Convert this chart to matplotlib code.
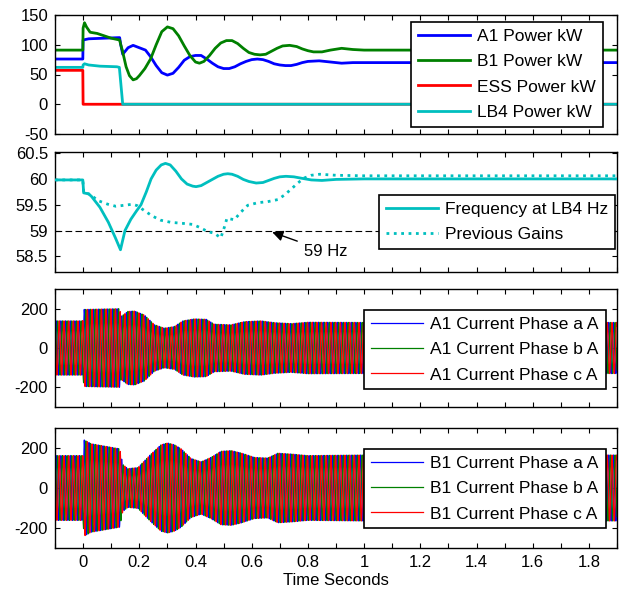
import numpy as np
import matplotlib.pyplot as plt

plt.rcParams['font.family'] = ['Liberation Sans', 'DejaVu Sans']
plt.rcParams['axes.unicode_minus'] = False

# --- top panel: powers in kW ---
a1_t = [-0.1, -0.001, 0.0, 0.02, 0.13, 0.134, 0.141, 0.16, 0.178, 0.2, 0.222, 0.24, 0.26, 0.28, 0.30,
        0.32, 0.34, 0.36, 0.38, 0.40, 0.42, 0.44, 0.46, 0.48, 0.50, 0.52, 0.54, 0.56, 0.58, 0.60,
        0.62, 0.64, 0.66, 0.68, 0.70, 0.72, 0.74, 0.76, 0.78, 0.80, 0.84, 0.88, 0.92, 0.96, 1.0, 1.9]
a1_kw = [76, 76, 108, 110, 112, 100, 84, 95, 99, 95, 91, 80, 65, 53, 49,
         52, 62, 74, 80, 82, 82, 76, 69, 63, 60, 60, 63, 68, 72, 75,
         76, 75, 72, 68, 66, 65, 65, 67, 70, 72, 73, 71, 69, 70, 70, 70]

b1_t = [-0.1, -0.001, 0.0, 0.005, 0.012, 0.025, 0.05, 0.10, 0.13, 0.134, 0.14, 0.153, 0.165, 0.178, 0.19,
        0.20, 0.22, 0.24, 0.26, 0.28, 0.30, 0.32, 0.34, 0.36, 0.38, 0.40, 0.414, 0.43, 0.45, 0.47,
        0.49, 0.51, 0.53, 0.55, 0.57, 0.59, 0.61, 0.63, 0.65, 0.67, 0.69, 0.71, 0.735, 0.76, 0.78,
        0.80, 0.82, 0.85, 0.88, 0.92, 0.96, 1.0, 1.9]
b1_kw = [91, 91, 128, 137, 130, 121, 119, 111, 108, 100, 90, 63, 48, 41, 43,
         48, 60, 76, 100, 122, 130, 127, 115, 98, 82, 71, 69, 72, 82, 94,
         103, 107, 107, 102, 94, 87, 84, 83, 84, 89, 94, 98, 99, 97, 93,
         90, 88, 88, 91, 94, 92, 91, 91]

ess_t = [-0.1, -0.001, 0.0, 1.9]
ess_kw = [57, 57, 0, 0]

lb4_t = [-0.1, -0.001, 0.0, 0.005, 0.02, 0.06, 0.12, 0.129, 0.141, 1.9]
lb4_kw = [62, 62, 66, 68, 66, 64, 63, 62, 0, 0]

# --- frequency panel (Hz) ---
f_t = [-0.1, -0.001, 0.002, 0.02, 0.03, 0.06, 0.09, 0.115, 0.133, 0.149,
       0.17, 0.19, 0.206, 0.225, 0.242, 0.26, 0.278, 0.293, 0.31, 0.33,
       0.35, 0.37, 0.39, 0.402, 0.42, 0.44, 0.46, 0.48, 0.50, 0.515,
       0.53, 0.55, 0.57, 0.59, 0.616, 0.64, 0.66, 0.68, 0.70, 0.722,
       0.75, 0.78, 0.812, 0.85, 0.9, 1.0, 1.9]
f_hz = [59.98, 59.98, 59.73, 59.71, 59.66, 59.45, 59.16, 58.86, 58.63, 59.0,
        59.22, 59.38, 59.5, 59.75, 60.0, 60.17, 60.27, 60.3, 60.27, 60.15,
        60.0, 59.9, 59.86, 59.85, 59.87, 59.93, 59.99, 60.05, 60.09, 60.1,
        60.09, 60.05, 59.99, 59.95, 59.92, 59.93, 59.97, 60.01, 60.04, 60.05,
        60.04, 60.01, 59.98, 59.97, 59.99, 60.0, 60.0]

prev_t = [-0.1, -0.001, 0.002, 0.02, 0.03, 0.053, 0.088, 0.117, 0.146, 0.176,
          0.194, 0.217, 0.247, 0.277, 0.313, 0.355, 0.39, 0.42, 0.443, 0.467,
          0.49, 0.503, 0.512, 0.538, 0.562, 0.586, 0.622, 0.657, 0.693, 0.717,
          0.74, 0.764, 0.788, 0.812, 0.842, 0.9, 1.0, 1.2, 1.9]
prev_hz = [59.98, 59.98, 59.73, 59.71, 59.68, 59.58, 59.51, 59.47, 59.49, 59.51,
           59.48, 59.39, 59.28, 59.2, 59.16, 59.14, 59.12, 59.05, 58.98, 58.95,
           58.86, 59.07, 59.24, 59.21, 59.36, 59.49, 59.54, 59.56, 59.6, 59.69,
           59.8, 59.92, 60.02, 60.07, 60.09, 60.07, 60.06, 60.06, 60.06]

# --- current envelopes (A peak) ---
a1_env_t = [-0.1, -0.001, 0.003, 0.13, 0.135, 0.159, 0.183, 0.218, 0.254, 0.289,
            0.325, 0.355, 0.396, 0.438, 0.467, 0.526, 0.574, 0.633, 0.681, 0.74,
            0.80, 1.0, 1.9]
a1_env = [138, 138, 196, 200, 160, 186, 188, 168, 118, 101,
          109, 138, 148, 146, 121, 118, 134, 138, 129, 124,
          131, 130, 130]

b1_env_t = [-0.1, -0.001, 0.004, 0.029, 0.13, 0.141, 0.159, 0.195, 0.242, 0.277,
            0.301, 0.325, 0.349, 0.384, 0.42, 0.455, 0.491, 0.527, 0.562, 0.61,
            0.657, 0.693, 0.74, 0.8, 1.0, 1.9]
b1_env = [162, 162, 240, 221, 196, 118, 97, 102, 170, 216,
          225, 216, 196, 148, 131, 153, 184, 187, 175, 153,
          150, 174, 170, 162, 165, 165]

x_ticks = [0, 0.2, 0.4, 0.6, 0.8, 1.0, 1.2, 1.4, 1.6, 1.8]
x_labels = ['0', '0.2', '0.4', '0.6', '0.8', '1', '1.2', '1.4', '1.6', '1.8']

blue = (0, 0, 1)
green = (0, 0.5, 0)
red = (1, 0, 0)
cyan = (0, 0.75, 0.75)

W, H = 621, 594
fig = plt.figure(figsize=(W / 100, H / 100), dpi=100)


def box(top, bottom):
    return [55 / W, 1 - bottom / H, 562 / W, (bottom - top) / H]


def style(ax, ylim, yticks, ylabels, show_x=False):
    ax.set_xlim(-0.1, 1.9)
    ax.set_ylim(*ylim)
    ax.set_yticks(yticks)
    ax.set_yticklabels(ylabels)
    ax.set_xticks(x_ticks)
    ax.set_xticks(np.arange(-0.1, 1.95, 0.2), minor=True)
    if show_x:
        ax.set_xticklabels(x_labels)
    else:
        ax.set_xticklabels([])
    ax.tick_params(which='both', direction='in', top=True, right=True,
                   length=3.5, width=0.8, labelsize=12, pad=5)
    for s in ax.spines.values():
        s.set_linewidth(1.0)


def leg(ax, **kw):
    lg = ax.legend(fancybox=False, framealpha=1, edgecolor='k', fontsize=12.5,
                   handlelength=3.0, handletextpad=0.4, labelspacing=0.58,
                   borderaxespad=0, **kw)
    lg.get_frame().set_linewidth(1.2)
    return lg


# panel 1
ax1 = fig.add_axes(box(15, 134))
ax1.plot(a1_t, a1_kw, color=blue, lw=2, label='A1 Power kW')
ax1.plot(b1_t, b1_kw, color=green, lw=2, label='B1 Power kW')
ax1.plot(ess_t, ess_kw, color=red, lw=2, label='ESS Power kW')
ax1.plot(lb4_t, lb4_kw, color=cyan, lw=2, label='LB4 Power kW')
style(ax1, (-50, 150), [-50, 0, 50, 100, 150], ['-50', '0', '50', '100', '150'])
leg(ax1, loc='upper right', bbox_to_anchor=(0.975, 0.941))

# panel 2
ax2 = fig.add_axes(box(152, 272))
ax2.plot(prev_t, prev_hz, color=cyan, lw=2, ls=':', label='Previous Gains', zorder=2)
ax2.plot(f_t, f_hz, color=cyan, lw=2, label='Frequency at LB4 Hz', zorder=3)
ax2.axhline(59, color='k', lw=0.8, ls=(0, (6, 3)), zorder=1)
ax2.annotate('59 Hz', xy=(0.673, 58.97), xytext=(0.786, 58.6), va='center',
             fontsize=12,
             arrowprops=dict(arrowstyle='-|>', color='k', lw=1,
                             mutation_scale=16, shrinkA=3, shrinkB=0))
style(ax2, (58.2, 60.52), [58.5, 59, 59.5, 60, 60.5], ['58.5', '59', '59.5', '60', '60.5'])
h, l = ax2.get_legend_handles_labels()
leg(ax2, handles=[h[1], h[0]], labels=[l[1], l[0]], loc='lower right',
    bbox_to_anchor=(0.996, 0.19))

# current panels
t = np.linspace(-0.1, 1.9, 40001)
w = 2 * np.pi * 60
shifts = [0, -2 * np.pi / 3, 2 * np.pi / 3]
phase_colors = [blue, green, red]
phase_names = ['a', 'b', 'c']

ax3 = fig.add_axes(box(289, 407))
env = np.interp(t, a1_env_t, a1_env)
for sh, c, n in zip(shifts, phase_colors, phase_names):
    ax3.plot(t, env * np.sin(w * t + sh), color=c, lw=0.9,
             label='A1 Current Phase %s A' % n)
style(ax3, (-300, 300), [-200, 0, 200], ['-200', '0', '200'])
leg(ax3, loc='upper right', bbox_to_anchor=(0.98, 0.822))

ax4 = fig.add_axes(box(428, 548))
env = np.interp(t, b1_env_t, b1_env)
for sh, c, n in zip(shifts, phase_colors, phase_names):
    ax4.plot(t, env * np.sin(w * t + sh), color=c, lw=0.9,
             label='B1 Current Phase %s A' % n)
style(ax4, (-300, 300), [-200, 0, 200], ['-200', '0', '200'], show_x=True)
leg(ax4, loc='upper right', bbox_to_anchor=(0.98, 0.825))
ax4.set_xlabel('Time Seconds', fontsize=12, labelpad=2)

fig.savefig('out.png', dpi=100)
